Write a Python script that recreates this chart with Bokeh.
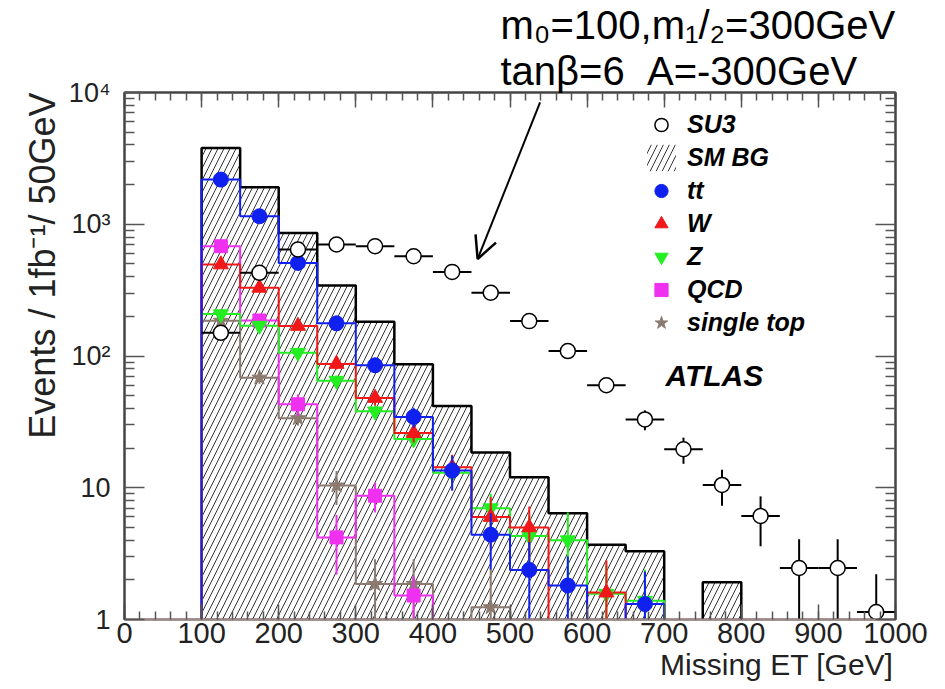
import numpy as np
from bokeh.plotting import figure
from bokeh.models import (FixedTicker, LinearAxis, LogAxis, Label, Arrow, OpenHead,
                          Legend, LegendItem, Range1d, Title)
from bokeh.embed import file_html
from bokeh.resources import INLINE

# ---------------- data ----------------
bin_centers = [125, 175, 225, 275, 325, 375, 425, 475, 525, 575,
               625, 675, 725, 775, 825, 875, 925, 975]
bin_half_width = 25

sm_bg = [3785, 1906, 859, 343, 182, 86.5, 41.8, 18.5, 12.0, 6.4,
         3.7, 3.3, 0, 1.92, 0, 0, 0, 0]
su3 = [150, 428, 643, 702, 681, 572, 435, 302, 184, 109,
       60, 33, 19.6, 10.5, 6.1, 2.46, 2.46, 1.14]
su3_err = [12, 21, 25, 26, 26, 24, 21, 17, 13.6, 10.4,
           7.7, 5.7, 4.4, 3.2, 2.5, 1.6, 1.6, 1.07]
tt = [2182, 1150, 509, 177, 85, 34.5, 13.5, 4.4, 2.38, 1.81,
      0, 1.31, 0, 0, 0, 0, 0, 0]
tt_err = [55, 40, 25, 15, 10, 6, 4, 2.0, 1.5, 1.2,
          0, 1.0, 0, 0, 0, 0, 0, 0]
w_bg = [495, 329, 169, 87, 48, 26, 14.3, 6.0, 5.0, 0,
        1.6, 0, 0, 0, 0, 0, 0, 0]
w_err = [25, 20, 12, 8, 6, 4, 3.5, 2.5, 2.2, 0,
         1.2, 0, 0, 0, 0, 0, 0, 0]
z_bg = [208, 170, 106, 65, 38, 23.4, 13, 7.0, 4.3, 4.0,
        1.57, 1.39, 0, 0, 0, 0, 0, 0]
z_err = [12, 10, 8, 6, 4, 3, 2.2, 2.0, 1.8, 2.5,
         1.0, 1.0, 0, 0, 0, 0, 0, 0]
qcd = [681, 186, 43, 4.2, 8.7, 1.52, 0, 0, 0, 0,
       0, 0, 0, 0, 0, 0, 0, 0]
qcd_err = [40, 20, 8, 2.0, 2.2, 0.6, 0, 0, 0, 0,
           0, 0, 0, 0, 0, 0, 0, 0]
single_top = [185, 68.5, 33.7, 10.4, 1.86, 1.86, 0, 1.24, 0, 0,
              0, 0, 0, 0, 0, 0, 0, 0]
single_top_err = [10, 7, 4, 3, 1.0, 1.0, 0, 1.2, 0, 0,
                  0, 0, 0, 0, 0, 0, 0, 0]

x_ticks = [0, 100, 200, 300, 400, 500, 600, 700, 800, 900, 1000]
y_ticks = [1, 10, 100, 1000, 10000]
y_tick_labels = ["1", "10", "10²", "10³", "10⁴"]

# ---------------- figure ----------------
FONT = "Liberation Sans"
FLOOR = 0.5   # below the y range, so empty bins fall out of the frame

p = figure(width=945, height=689, output_backend="svg", toolbar_location=None,
           y_axis_type="log", x_range=Range1d(0, 1000), y_range=Range1d(1, 10000),
           min_border_left=124, min_border_right=50, min_border_top=92,
           min_border_bottom=70)
p.grid.visible = False
p.outline_line_color = "#444444"
p.outline_line_width = 2
p.background_fill_color = "white"
p.border_fill_color = "white"

xc = np.array(bin_centers, float)
edges = np.append(xc - bin_half_width, xc[-1] + bin_half_width)


def step_xy(vals):
    v = np.maximum(np.asarray(vals, float), FLOOR)
    xs = np.repeat(edges, 2)
    ys = np.concatenate([[FLOOR], np.repeat(v, 2), [FLOOR]])
    return xs, ys


# SM background: hatched histogram
sm = np.asarray(sm_bg, float)
m = sm > 0
bg_r = p.quad(left=(xc - bin_half_width)[m], right=(xc + bin_half_width)[m],
              bottom=FLOOR, top=sm[m], fill_color=None, line_color=None,
              hatch_pattern="/", hatch_color="#333333", hatch_scale=12,
              hatch_weight=1.0)
sx, sy = step_xy(sm_bg)
p.line(sx, sy, line_color="black", line_width=2.5)

components = [
    ("tt", tt, tt_err, "#1020ee", "circle", 15),
    ("W", w_bg, w_err, "#f01818", "triangle", 15),
    ("Z", z_bg, z_err, "#22ee22", "inverted_triangle", 15),
    ("QCD", qcd, qcd_err, "#f030f0", "square", 13),
    ("single top", single_top, single_top_err, "#8c7a70", "star", 16),
]

legend_renderers = {}
for name, vals, errs, col, mk, sz in reversed(components):
    sx, sy = step_xy(vals)
    p.line(sx, sy, line_color=col, line_width=2)

for name, vals, errs, col, mk, sz in reversed(components):
    v = np.asarray(vals, float)
    e = np.asarray(errs, float)
    mm = v > 0
    p.segment(x0=xc[mm], x1=xc[mm], y0=np.maximum(v[mm] - e[mm], FLOOR),
              y1=v[mm] + e[mm], line_color=col, line_width=2)
    r = p.scatter(xc[mm], v[mm], marker=mk, size=sz, fill_color=col,
                  line_color=col, line_width=1)
    legend_renderers[name] = r

# SU3 signal: open circles with error bars
s = np.asarray(su3, float)
se = np.asarray(su3_err, float)
p.segment(x0=xc - bin_half_width, x1=xc + bin_half_width, y0=s, y1=s,
          line_color="black", line_width=2)
p.segment(x0=xc, x1=xc, y0=np.maximum(s - se, FLOOR), y1=s + se,
          line_color="black", line_width=2)
su3_r = p.scatter(xc, s, marker="circle", size=15, fill_color="white",
                  line_color="black", line_width=1.5)

# ---------------- axes ----------------
xt = FixedTicker(ticks=x_ticks, minor_ticks=list(range(0, 1001, 20)))
yminor = [d * k for d in (1, 10, 100, 1000) for k in range(2, 10)]
yt = FixedTicker(ticks=y_ticks, minor_ticks=yminor)

xa = p.xaxis[0]
xa.ticker = xt
xa.major_label_text_font = FONT
xa.major_label_text_font_size = "29px"
xa.major_label_text_color = "#222222"
xa.major_label_standoff = 3
xa.axis_line_color = "#a08a86"
xa.axis_line_width = 2

ya = p.yaxis[0]
ya.ticker = yt
ya.major_label_overrides = {t: l for t, l in zip(y_ticks, y_tick_labels)}
ya.major_label_text_font = FONT
ya.major_label_text_font_size = "27px"
ya.major_label_text_color = "#222222"
ya.major_label_standoff = 14
ya.axis_line_color = "#444444"
ya.axis_line_width = 2

top_ax = LinearAxis(ticker=xt, major_label_text_color=None,
                    major_label_text_font_size="1px", major_label_standoff=0)
right_ax = LogAxis(ticker=yt, major_label_text_color=None,
                   major_label_text_font_size="1px", major_label_standoff=0)
p.add_layout(top_ax, "above")
p.add_layout(right_ax, "right")

for ax in (xa, top_ax):
    ax.major_tick_in = 15
    ax.major_tick_out = 0
    ax.minor_tick_in = 8
    ax.minor_tick_out = 0
    ax.major_tick_line_color = "#555555"
    ax.minor_tick_line_color = "#555555"
    ax.major_tick_line_width = 1.5
    ax.minor_tick_line_width = 1.5
for ax in (ya, right_ax):
    ax.major_tick_in = 20
    ax.major_tick_out = 0
    ax.minor_tick_in = 10
    ax.minor_tick_out = 0
    ax.major_tick_line_color = "#555555"
    ax.minor_tick_line_color = "#555555"
    ax.major_tick_line_width = 1.5
    ax.minor_tick_line_width = 1.5
top_ax.axis_line_color = "#444444"
right_ax.axis_line_color = "#444444"
top_ax.axis_line_width = 2
right_ax.axis_line_width = 2

# axis titles (ROOT style: aligned to the end of the axis)
p.add_layout(Title(text="Missing ET [GeV]", align="right", text_font=FONT,
                   text_font_size="30px", text_font_style="normal",
                   text_color="#222222", standoff=0, offset=2), "below")
p.add_layout(Title(text="Events / 1fb⁻¹/ 50GeV", align="right", text_font=FONT,
                   text_font_size="36px", text_font_style="normal",
                   text_color="#222222", standoff=6), "left")

# SUSY point annotation (two lines above the frame)
p.add_layout(Title(text="tanβ=6\u00a0\u00a0A=-300GeV", align="left", offset=376,
                   text_font=FONT, text_font_size="40px", text_font_style="normal",
                   text_color="black", standoff=0), "above")
p.add_layout(Title(text="m₀=100,m₁/₂=300GeV", align="left", offset=376,
                   text_font=FONT, text_font_size="40px", text_font_style="normal",
                   text_color="black", standoff=0), "above")

# ---------------- legend ----------------
items = [LegendItem(label="SU3", renderers=[su3_r]),
         LegendItem(label="SM BG", renderers=[bg_r])]
for name, *_ in components:
    items.append(LegendItem(label=name, renderers=[legend_renderers[name]]))
leg = Legend(items=items, location=(519, 280), glyph_width=36, glyph_height=33,
             label_height=33, spacing=0, padding=0, margin=0, label_standoff=8,
             label_text_font=FONT, label_text_font_style="bold italic",
             label_text_font_size="25px", label_text_color="black",
             border_line_color=None, background_fill_alpha=0)
p.add_layout(leg)

p.add_layout(Label(x=541, y=228, x_units="screen", y_units="screen", text="ATLAS",
                   text_font=FONT, text_font_style="bold italic",
                   text_font_size="30px", text_color="black"))

p.add_layout(Arrow(end=OpenHead(size=22, line_width=2.5, line_color="black"),
                   x_start=539, y_start=8400, x_end=458, y_end=545,
                   line_width=2, line_color="black"))

open("out.html", "w").write(file_html(p, INLINE))
